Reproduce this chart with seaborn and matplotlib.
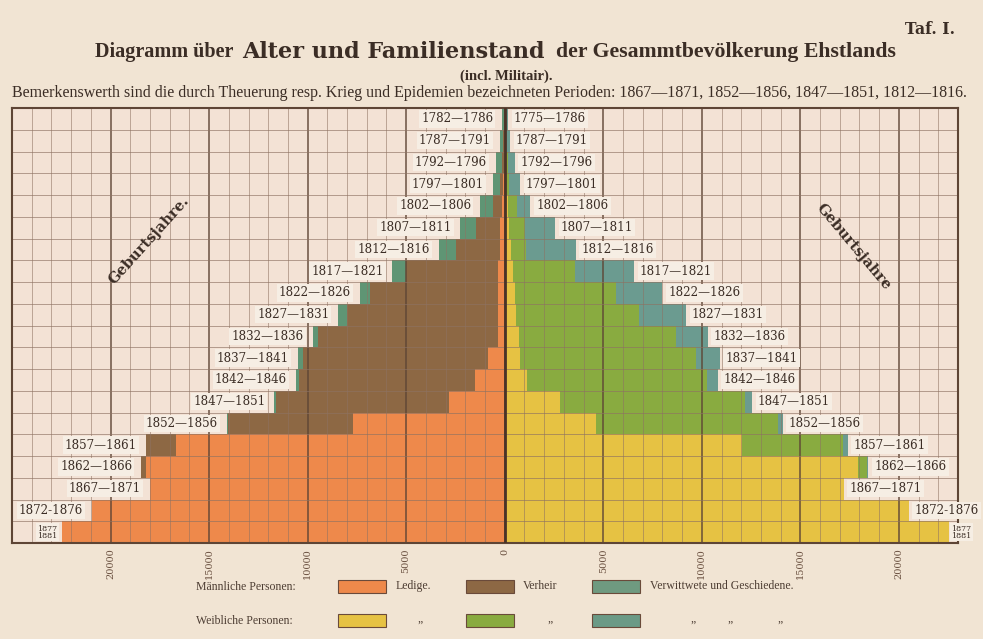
import numpy as np
import pandas as pd
import matplotlib
matplotlib.use("Agg")
import matplotlib.pyplot as plt
import seaborn as sns
from matplotlib.patches import Rectangle

# ---------------- data ----------------
cohorts_left = ["1782—1786", "1787—1791", "1792—1796", "1797—1801", "1802—1806",
                "1807—1811", "1812—1816", "1817—1821", "1822—1826", "1827—1831",
                "1832—1836", "1837—1841", "1842—1846", "1847—1851", "1852—1856",
                "1857—1861", "1862—1866", "1867—1871", "1872-1876", "1877\n1881"]
cohorts_right = ["1775—1786", "1787—1791", "1792—1796", "1797—1801", "1802—1806",
                 "1807—1811", "1812—1816", "1817—1821", "1822—1826", "1827—1831",
                 "1832—1836", "1837—1841", "1842—1846", "1847—1851", "1852—1856",
                 "1857—1861", "1862—1866", "1867—1871", "1872-1876", "1877\n1881"]

male_single  = [10, 20, 50, 100, 150, 250, 250, 350, 350, 350,
                350, 850, 1500, 2850, 7700, 16700, 18200, 18000, 20950, 22450]
male_married = [20, 50, 100, 150, 450, 1200, 2200, 4650, 6500, 7650,
                9100, 9400, 8950, 8750, 6350, 1500, 250, 0, 0, 0]
male_widowed = [100, 180, 300, 350, 650, 800, 900, 700, 500, 450,
                300, 250, 150, 100, 50, 0, 0, 0, 0, 0]

female_single  = [10, 20, 50, 70, 150, 200, 300, 400, 500, 550,
                  750, 800, 1150, 2800, 4650, 12050, 17950, 17200, 20500, 22550]
female_married = [20, 40, 100, 150, 450, 850, 800, 3150, 5150, 6250,
                  7950, 8900, 9100, 9400, 9200, 5100, 450, 0, 0, 0]
female_widowed = [130, 200, 350, 550, 700, 1500, 2500, 3000, 2350, 2400,
                  1600, 1200, 550, 350, 250, 250, 50, 0, 0, 0]

tick_values = [-20000, -15000, -10000, -5000, 0, 5000, 10000, 15000, 20000]
tick_labels = ["20000", "15000", "10000", "5000", "0", "5000", "10000", "15000", "20000"]

# ---------------- style ----------------
PAPER = "#f1e4d3"
PLOT_BG = "#f3e2d5"
INK = "#3b2d25"
C_MS, C_MM, C_MW = "#ee894b", "#8d6844", "#5f9574"
C_FS, C_FM, C_FW = "#e6c243", "#89ab40", "#6b9b90"
GRID = "#8e7262"
HEAVY = "#5e4535"

sns.set_theme(style="white")
plt.rcParams["font.family"] = ["DejaVu Serif"]

W, H = 983, 639
fig = plt.figure(figsize=(W / 100, H / 100), dpi=100)
fig.patch.set_facecolor(PAPER)

def fx(px):
    return px / W

def fy(py):
    return 1 - py / H

ax = fig.add_axes([fx(12), fy(543), fx(958) - fx(12), fy(108) - fy(543)])
ax.set_facecolor(PLOT_BG)

n = len(cohorts_left)
rows = [f"r{i:02d}" for i in range(n)]
ms, mm, mw = map(np.array, (male_single, male_married, male_widowed))
fs, fm, fw = map(np.array, (female_single, female_married, female_widowed))

layers = [
    (-(ms + mm + mw), C_MW), (-(ms + mm), C_MM), (-ms, C_MS),
    (fs + fm + fw, C_FW), (fs + fm, C_FM), (fs, C_FS),
]
for vals, col in layers:
    d = pd.DataFrame({"row": rows, "value": vals})
    sns.barplot(data=d, x="value", y="row", order=rows, orient="h", color=col,
                width=1.0, linewidth=0, errorbar=None, saturation=1, ax=ax)

XMIN, XMAX = -25000, 23000
ax.set_xlim(XMIN, XMAX)
ax.set_ylim(n - 0.5, -0.5)

# grid paper
for v in range(-25000, 23001, 1000):
    heavy = (v % 5000 == 0)
    ax.axvline(v, color=HEAVY if heavy else GRID, lw=1.2 if heavy else 0.55,
               alpha=0.85 if heavy else 0.7, zorder=2.5)
for k in range(n + 1):
    ax.axhline(k - 0.5, color=GRID, lw=0.6, alpha=0.75, zorder=2.5)
ax.axvline(0, color="#4a3328", lw=2.0, zorder=2.6)

# cohort labels
m_tot = ms + mm + mw
f_tot = fs + fm + fw
box = dict(boxstyle="square,pad=0.18", fc="#f6eee4", ec="none")
for i in range(n):
    last = (i == n - 1)
    fsz = 5.8 if last else 8.6
    ax.text(-m_tot[i] - (250 if last else 450), i, cohorts_left[i], ha="right", va="center",
            fontsize=fsz, color=INK, bbox=box, zorder=4, linespacing=0.85)
    ax.text(f_tot[i] + (120 if last else 300), i, cohorts_right[i], ha="left", va="center",
            fontsize=fsz, color=INK, bbox=box, zorder=4, linespacing=0.85)

ax.set_xlabel("")
ax.set_ylabel("")
ax.set_yticks([])
ax.set_xticks(tick_values)
ax.set_xticklabels(tick_labels, rotation=90, va="top")
ax.tick_params(axis="x", length=0, pad=4, labelsize=7, labelcolor="#6a5040")
for sp in ax.spines.values():
    sp.set_color(HEAVY)
    sp.set_linewidth(1.5)

# "Geburtsjahre" diagonal labels
ax.text(fx(149), fy(240), "Geburtsjahre.", transform=fig.transFigure, rotation=48,
        ha="center", va="center", fontsize=10.5, fontweight="bold", color=INK, zorder=5)
ax.text(fx(853), fy(247), "Geburtsjahre", transform=fig.transFigure, rotation=-50,
        ha="center", va="center", fontsize=10.5, fontweight="bold", color=INK, zorder=5)

# ---------------- titles (fit to measured widths) ----------------
renderer = fig.canvas.get_renderer()

def fit_text(x0, x1, y, s, ha="left", **kw):
    size = 10.0
    for _ in range(3):
        t = fig.text(0, 0, s, fontsize=size, **kw)
        w = t.get_window_extent(renderer).width
        t.remove()
        size = size * (x1 - x0) / w
    xpos = x0 if ha == "left" else (x0 + x1) / 2
    return fig.text(fx(xpos), fy(y), s, fontsize=size, ha=ha, va="center", **kw)

fit_text(95, 233, 52, "Diagramm über", family="Liberation Serif", weight="bold", color=INK)
fit_text(242, 545, 52, "Alter und Familienstand", family="DejaVu Serif", weight="bold", color=INK)
fit_text(556, 897, 52, "der Gesammtbevölkerung Ehstlands", family="Liberation Serif",
         weight="bold", color=INK)
fit_text(460, 552, 76, "(incl. Militair).", ha="center", family="Liberation Serif",
         weight="bold", color=INK)
fit_text(12, 972, 93, "Bemerkenswerth sind die durch Theuerung resp. Krieg und Epidemien "
         "bezeichneten Perioden: 1867—1871, 1852—1856, 1847—1851, 1812—1816.",
         family="Liberation Serif", color=INK)
fit_text(905, 955, 30, "Taf. I.", family="DejaVu Serif", weight="bold", color=INK)

# ---------------- legend ----------------
LT = "#4d3d33"
def swatch(x0, y0, col):
    fig.patches.append(Rectangle((fx(x0), fy(y0 + 13)), fx(48), 13 / H, transform=fig.transFigure,
                                 fc=col, ec="#6a4a3a", lw=0.8))

fig.text(fx(196), fy(587), "Männliche Personen:", fontsize=8.5, family="Liberation Serif",
         color=LT, va="center")
swatch(338, 580, C_MS)
fig.text(fx(396), fy(586), "Ledige.", fontsize=8.5, family="Liberation Serif", color=LT, va="center")
swatch(466, 580, C_MM)
fig.text(fx(523), fy(586), "Verheir", fontsize=8.5, family="Liberation Serif", color=LT, va="center")
swatch(592, 580, "#6f9a80")
fig.text(fx(650), fy(586), "Verwittwete und Geschiedene.", fontsize=8.5,
         family="Liberation Serif", color=LT, va="center")

fig.text(fx(196), fy(621), "Weibliche Personen:", fontsize=8.5, family="Liberation Serif",
         color=LT, va="center")
swatch(338, 614, C_FS)
swatch(466, 614, C_FM)
swatch(592, 614, "#6b9a86")
for xp in (420, 550, 693, 730, 780):
    fig.text(fx(xp), fy(619), "„", fontsize=8.5, family="Liberation Serif", color=LT,
             va="center", ha="center")

fig.savefig("out.png", dpi=100, facecolor=PAPER)
